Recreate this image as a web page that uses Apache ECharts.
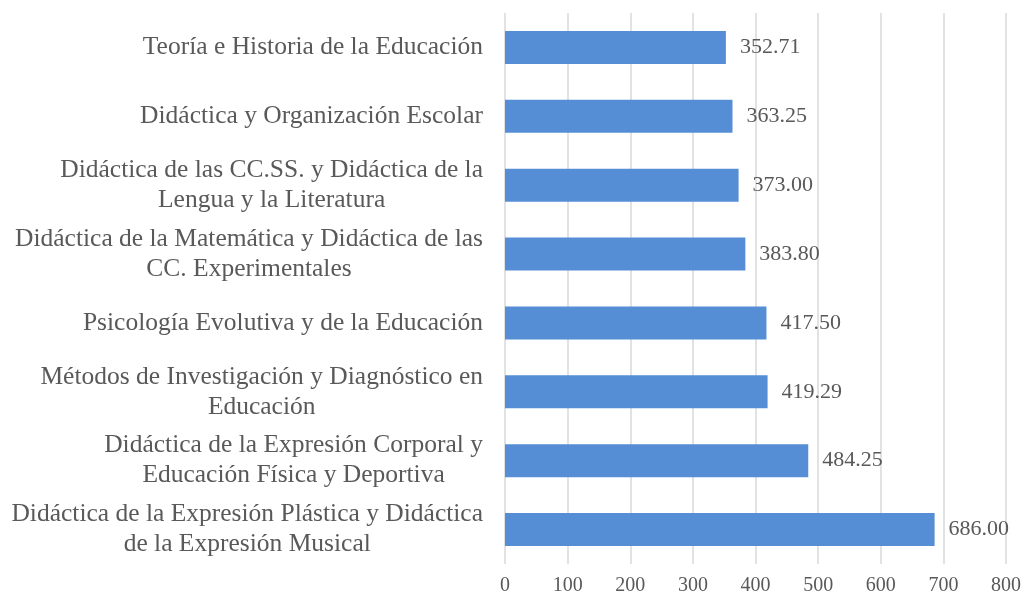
<!DOCTYPE html>
<html>
<head>
<meta charset="utf-8">
<script src="https://cdn.jsdelivr.net/npm/echarts@6/dist/echarts.min.js"></script>
<style>
  html, body { margin: 0; padding: 0; background: #fff; }
  #chart { width: 1024px; height: 601px; }
</style>
</head>
<body>
<div id="chart"></div>
<script>
// datos del gráfico
const categories = [
  'Teoría e Historia de la Educación',
  'Didáctica y Organización Escolar',
  'Didáctica de las CC.SS. y Didáctica de la\nLengua y la Literatura',
  'Didáctica de la Matemática y Didáctica de las\nCC. Experimentales',
  'Psicología Evolutiva y de la Educación',
  'Métodos de Investigación y Diagnóstico en\nEducación',
  'Didáctica de la Expresión Corporal y\nEducación Física y Deportiva',
  'Didáctica de la Expresión Plástica y Didáctica\nde la Expresión Musical'
]
const values = [352.71, 363.25, 373.00, 383.80, 417.50, 419.29, 484.25, 686.00]

const chart = echarts.init(document.getElementById('chart'))
const font = 'Liberation Serif'

chart.setOption({
  animation: false,
  grid: { left: 505, right: 17, top: 13, bottom: 37 },
  xAxis: {
    type: 'value',
    min: 0,
    max: 800,
    interval: 100,
    axisLine: { show: false },
    axisTick: { show: false },
    axisLabel: { color: '#595959', fontFamily: font, fontSize: 20, margin: 12 },
    splitLine: { lineStyle: { color: '#d9d9d9', width: 1.5 } }
  },
  yAxis: {
    type: 'category',
    inverse: true,
    data: categories,
    axisLine: { show: false },
    axisTick: { show: false },
    axisLabel: {
      margin: 22,
      formatter: v => v.split('\n').map(s => '{c|' + s + '}').join('\n'),
      rich: {
        c: { color: '#595959', fontFamily: font, fontSize: 25.5, lineHeight: 30, align: 'center' }
      }
    }
  },
  series: [{
    type: 'bar',
    data: values,
    barWidth: 33,
    itemStyle: { color: '#558ed5' },
    label: {
      show: true,
      position: 'right',
      distance: 14,
      color: '#595959',
      fontFamily: font,
      fontSize: 22,
      formatter: p => p.value.toFixed(2)
    }
  }]
})
</script>
</body>
</html>
